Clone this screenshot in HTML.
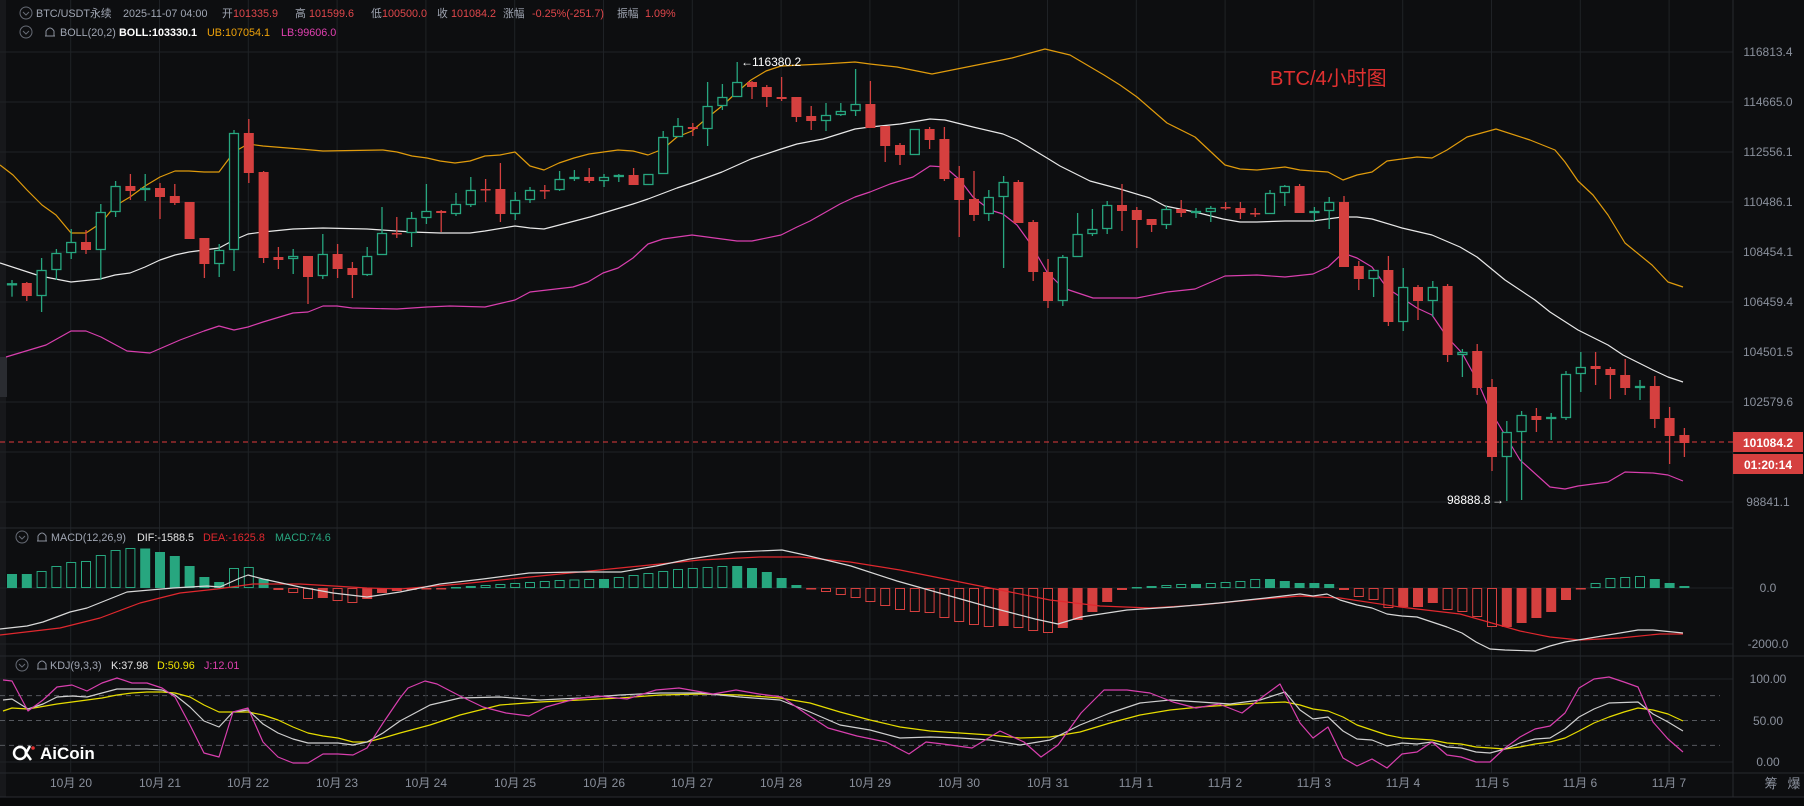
<!DOCTYPE html>
<html><head><meta charset="utf-8">
<style>
html,body{margin:0;padding:0;background:#0d0e10;}
svg{display:block;}
text{font-family:"Liberation Sans","Noto Sans CJK SC",sans-serif;}
</style></head>
<body>
<svg id="s" width="1804" height="806" viewBox="0 0 1804 806" xmlns="http://www.w3.org/2000/svg">
<rect width="1804" height="806" fill="#0d0e10"/>
<rect x="0" y="0" width="6" height="797" fill="#17181b"/>
<rect x="0" y="357" width="7" height="40" fill="#2a2c31"/>
<g id="grid"></g>
<g id="shapes"></g>
<line x1="0" y1="528" x2="1733" y2="528" stroke="#26292e"/>
<line x1="0" y1="656" x2="1804" y2="656" stroke="#26292e"/>
<line x1="0" y1="773" x2="1804" y2="773" stroke="#26292e"/>
<line x1="1733" y1="0" x2="1733" y2="797" stroke="#26292e"/>
<rect x="0" y="797" width="1804" height="9" fill="#08090a"/>
<line x1="0" y1="797" x2="1804" y2="797" stroke="#2a2c31"/>
<line x1="0" y1="442" x2="1733" y2="442" stroke="#e0393b" stroke-dasharray="5,4"/>
<rect x="1733" y="432" width="70" height="20" fill="#d5403f"/>
<rect x="1733" y="454" width="70" height="20" fill="#d5403f"/>
<text x="1768" y="447" fill="#fff" font-size="12" font-weight="bold" text-anchor="middle">101084.2</text>
<text x="1768" y="469" fill="#fff" font-size="12" font-weight="bold" text-anchor="middle">01:20:14</text>
<g fill="#8a909c" font-size="12" text-anchor="middle">
<text x="1768" y="56">116813.4</text>
<text x="1768" y="106">114665.0</text>
<text x="1768" y="156">112556.1</text>
<text x="1768" y="206">110486.1</text>
<text x="1768" y="256">108454.1</text>
<text x="1768" y="306">106459.4</text>
<text x="1768" y="356">104501.5</text>
<text x="1768" y="406">102579.6</text>
<text x="1768" y="506">98841.1</text>
<text x="1768" y="592">0.0</text>
<text x="1768" y="648">-2000.0</text>
<text x="1768" y="683">100.00</text>
<text x="1768" y="725">50.00</text>
<text x="1768" y="766">0.00</text>
</g>
<g fill="#8a909c" font-size="12" text-anchor="middle">
<text x="71" y="787">10月 20</text><text x="160" y="787">10月 21</text><text x="248" y="787">10月 22</text>
<text x="337" y="787">10月 23</text><text x="426" y="787">10月 24</text><text x="515" y="787">10月 25</text>
<text x="604" y="787">10月 26</text><text x="692" y="787">10月 27</text><text x="781" y="787">10月 28</text>
<text x="870" y="787">10月 29</text><text x="959" y="787">10月 30</text><text x="1048" y="787">10月 31</text>
<text x="1136" y="787">11月 1</text><text x="1225" y="787">11月 2</text><text x="1314" y="787">11月 3</text>
<text x="1403" y="787">11月 4</text><text x="1492" y="787">11月 5</text><text x="1580" y="787">11月 6</text>
<text x="1669" y="787">11月 7</text>
<text x="1771" y="788" font-size="13">筹</text><text x="1794" y="788" font-size="13">爆</text>
</g>
<g font-size="10.8">
<circle cx="26" cy="13" r="6" fill="none" stroke="#666b75"/>
<path d="M23 12 L26 15 L29 12" fill="none" stroke="#666b75"/>
<text x="36" y="17" fill="#a0a6b3">BTC/USDT永续</text>
<text x="123" y="17" fill="#a0a6b3">2025-11-07 04:00</text>
<text x="222" y="17" fill="#a0a6b3">开</text><text x="233" y="17" fill="#e0474b">101335.9</text>
<text x="295" y="17" fill="#a0a6b3">高</text><text x="309" y="17" fill="#e0474b">101599.6</text>
<text x="371" y="17" fill="#a0a6b3">低</text><text x="382" y="17" fill="#e0474b">100500.0</text>
<text x="437" y="17" fill="#a0a6b3">收</text><text x="451" y="17" fill="#e0474b">101084.2</text>
<text x="503" y="17" fill="#a0a6b3">涨幅</text><text x="532" y="17" fill="#e0474b">-0.25%(-251.7)</text>
<text x="617" y="17" fill="#a0a6b3">振幅</text><text x="645" y="17" fill="#e0474b">1.09%</text>

<circle cx="26" cy="32" r="6" fill="none" stroke="#666b75"/>
<path d="M23 31 L26 34 L29 31" fill="none" stroke="#666b75"/>
<path d="M46 36 L46 31 Q50 25 54 31 L54 36 Z M45 36 L55 36" fill="none" stroke="#8a909c"/>
<text x="60" y="36" fill="#a0a6b3">BOLL(20,2)</text>
<text x="119" y="36" fill="#fff" font-weight="bold">BOLL:103330.1</text>
<text x="207" y="36" fill="#f0a30a">UB:107054.1</text>
<text x="281" y="36" fill="#e040b0">LB:99606.0</text>

<circle cx="22" cy="537" r="6" fill="none" stroke="#666b75"/>
<path d="M19 536 L22 539 L25 536" fill="none" stroke="#666b75"/>
<path d="M38 541 L38 536 Q42 530 46 536 L46 541 Z M37 541 L47 541" fill="none" stroke="#8a909c"/>
<text x="51" y="541" fill="#a0a6b3">MACD(12,26,9)</text>
<text x="137" y="541" fill="#e6e6e6">DIF:-1588.5</text>
<text x="203" y="541" fill="#e0282e">DEA:-1625.8</text>
<text x="275" y="541" fill="#27a67f">MACD:74.6</text>

<circle cx="22" cy="665" r="6" fill="none" stroke="#666b75"/>
<path d="M19 664 L22 667 L25 664" fill="none" stroke="#666b75"/>
<path d="M38 669 L38 664 Q42 658 46 664 L46 669 Z M37 669 L47 669" fill="none" stroke="#8a909c"/>
<text x="50" y="669" fill="#a0a6b3">KDJ(9,3,3)</text>
<text x="111" y="669" fill="#e6e6e6">K:37.98</text>
<text x="157" y="669" fill="#f2e600">D:50.96</text>
<text x="204" y="669" fill="#e040b0">J:12.01</text>
</g>
<text x="1270" y="85" fill="#e03030" font-size="20">BTC/4小时图</text>
<text x="752" y="66" fill="#fff" font-size="12">116380.2</text>
<text x="741" y="66" fill="#fff" font-size="12">←</text>
<text x="1447" y="504" fill="#fff" font-size="12">98888.8</text>
<text x="1492" y="504" fill="#fff" font-size="12">→</text>
<g>
<circle cx="20" cy="753" r="6" fill="none" stroke="#fff" stroke-width="2.5"/>
<path d="M30 746 L26 753 L31 760" fill="none" stroke="#fff" stroke-width="2.5"/>
<circle cx="33" cy="748" r="1.8" fill="#e03030"/>
<text x="40" y="759" fill="#fff" font-size="17" font-weight="bold">AiCoin</text>
</g>
</svg>
<script>
(function(){
var NS="http://www.w3.org/2000/svg";
var G=document.getElementById('grid'),S=document.getElementById('shapes');
function el(p,t,a){var e=document.createElementNS(NS,t);for(var k in a)e.setAttribute(k,a[k]);p.appendChild(e);return e;}
for(var y=52;y<=502;y+=50)el(G,'line',{x1:0,y1:y,x2:1733,y2:y,stroke:'#1f2226'});
[588,644,679,762].forEach(function(y){el(G,'line',{x1:0,y1:y,x2:1733,y2:y,stroke:'#1f2226'});});
[695.6,720.5,745.4].forEach(function(y){el(G,'line',{x1:0,y1:y,x2:1720,y2:y,stroke:'#55585e','stroke-dasharray':'5,4'});});
for(var k=0;k<19;k++){var gx=70.7+k*88.8;el(G,'line',{x1:gx,y1:0,x2:gx,y2:773,stroke:'#1f2226'});}
var GR='#27a67f',RD='#d5403f',BG='#0d0e10';
var C=[[285.3,283.3,280,296.7],[283,296,282,301],[296,270,258,312],[270,253,249,280],[253,242,229,259],[242,250,230,254],[250,212,204,280],[212,186,181,217],[186,191,174,200],[190,188,174,201],
[188,197,183,219],[196,203,184,205],[202,239,202,239],[238,264,238,278],[264,250,244,277],[250,133,130,271],[133,173,119,183],[172,258,171,263],[257,260,247,269],[259,256,249,274],
[256,277,256,304],[276,254,234,279],[254,269,244,278],[268,275,262,298],[275,256,247,276],[255,233,207,255],[233,234,217,238],[233,218,212,247],[218,211,184,224],[211,213,210,232],
[214,204,193,216],[205,190,177,207],[189,190,179,202],[189,214,163,222],[214,200,192,220],[200,190,187,203],[190,191,185,199],[190,179,171,191],[179,177,170,181],[177,181,168,183],
[181,177,174,187],[177,175,174,182],[175,185,168,185],[185,174,174,185],[174,137,131,174],[137,126,118,137],[127,129,123,136],[129,106,82,146],[106,97,84,110],[97,82,62,97],
[82,87,81,99],[87,97,85,107],[97,99,77,101],[97,117,97,122],[116,121,106,130],[121,115,103,131],[115,111,103,116],[111,104,69,116],[104,128,81,128],[126,146,126,162],
[145,155,143,165],[155,129,129,155],[129,140,127,149],[139,179,127,181],[178,200,166,237],[199,215,171,221],[214,197,190,221],[197,182,176,268],[182,223,180,223],[222,272,220,281],
[272,301,259,308],[301,257,255,306],[257,234,213,257],[234,229,209,236],[229,205,201,234],[205,211,184,231],[210,220,207,248],[219,225,219,232],[225,209,206,229],[209,213,200,217],
[213,211,208,218],[212,208,206,222],[207,208,202,210],[208,213,202,219],[213,214,208,217],[214,193,190,214],[193,186,185,206],[186,213,184,213],[212,211,207,221],[211,202,197,229],
[202,267,196,267],[266,279,261,290],[279,270,270,297],[270,322,256,326],[322,287,268,331],[287,301,285,320],[301,287,281,317],[286,355,284,362],[355,352,349,377],[351,388,344,395],
[387,457,379,471],[457,432,421,501],[432,415,411,500],[416,420,408,432],[419,417,413,440],[418,374,371,420],[374,367,352,392],[366,369,352,385],[369,375,367,399],[375,388,359,395],
[387,386,380,400],[386,419,376,428],[418,436,407,464],[435,443,428,457]];
function X(i){return 12+i*14.8;}
var M=[574,574,571,566,562,561,555,550,548,548.5,552,556,566,577,582,568,567,579,590,593,599,598,601,603,599,593,591,590,589,589,
587,586,585,584,583,582,581,580,579.5,579,579,577,575,573,571,569,568,567,566,566,568,572,578,585,589,592,595,598,602,606,
610,612,613,618,622,625,627,626,628,631,633,628,620,612,602,590,587,586,585,584,584,583,582,581,579,579,581,583,583,584,
590,597,600,608,607,607,603,610,612,617,627,627,623,618,612,600,589,583,578,577,576,579,583,586];
function poly(pts,col,w){el(S,'polyline',{points:pts.map(function(p){return p.join(',');}).join(' '),fill:'none',stroke:col,'stroke-width':w||1.2,'stroke-linejoin':'round'});}
var Z=588;
for(var i=0;i<M.length;i++){var v=M[i],up=v<Z,col=up?GR:RD;var prev=i?M[i-1]:v;var inc=Math.abs(v-Z)>Math.abs(prev-Z)+0.01;
var y0=Math.min(v,Z),hh=Math.max(Math.abs(v-Z),1.5);
if(inc)el(S,'rect',{x:X(i)-4.5,y:y0+0.5,width:9,height:Math.max(hh-1,1),fill:BG,stroke:col,'stroke-width':1});
else el(S,'rect',{x:X(i)-5,y:y0,width:10,height:hh,fill:col});}
poly([[0,165],[13,175],[27,190],[42,205],[56,215],[71,233],[86,233],[101,223],[115,206],[130,197],[145,186],[160,177],[175,171],[189,171],[204,172],[219,172],[234,152],[248,144],[263,146],[300,149],[323,151],[383,150],[397,152],[412,156],[427,158],[440,161],[455,163],[470,161],[485,156],[500,155],[515,152],[530,166],[544,170],[559,163],[574,158],[589,154],[618,150],[633,151],[648,155],[663,149],[677,137],[692,131],[707,118],[722,106],[736,93],[751,80],[766,71],[781,66],[823,64],[855,62],[870,64],[897,67],[932,74],[972,66],[1012,58],[1045,49],[1070,55],[1104,75],[1120,85],[1137,97],[1167,123],[1195,137],[1225,165],[1240,169],[1257,170],[1285,167],[1300,170],[1313,171],[1328,172],[1343,180],[1357,175],[1372,172],[1387,161],[1417,157],[1432,158],[1447,150],[1467,137],[1496,129],[1530,140],[1555,150],[1565,162],[1578,181],[1593,195],[1608,215],[1625,243],[1652,265],[1668,282],[1683,287]],'#e09b0c');
poly([[0,263],[40,276],[71,282],[100,279],[115,275],[130,273],[145,267],[160,260],[175,255],[189,252],[204,250],[219,248],[234,240],[248,234],[263,232],[293,229],[323,228],[367,229],[397,231],[412,232],[440,233],[470,233],[485,231],[515,226],[530,228],[544,229],[590,217],[633,204],[648,199],[677,188],[692,183],[722,172],[751,159],[781,149],[797,144],[823,139],[855,129],[870,127],[900,124],[930,119],[945,120],[973,127],[1003,134],[1017,140],[1047,158],[1060,166],[1090,181],[1120,189],[1150,198],[1165,206],[1195,212],[1223,219],[1240,222],[1257,222],[1285,221],[1313,221],[1342,217],[1357,217],[1372,219],[1402,228],[1432,235],[1460,247],[1477,257],[1505,280],[1535,300],[1550,312],[1578,330],[1608,345],[1623,355],[1653,370],[1668,377],[1683,382]],'#e8e8e8');
poly([[6,357],[46,345],[71,331],[86,331],[101,337],[127,351],[150,353],[180,340],[204,331],[219,326],[234,330],[248,327],[263,322],[293,313],[308,312],[323,306],[337,306],[352,308],[397,309],[427,307],[450,306],[485,307],[515,300],[530,292],[573,287],[588,282],[603,273],[618,268],[633,258],[648,244],[663,239],[692,235],[737,241],[752,241],[781,235],[797,227],[810,221],[840,204],[855,197],[870,192],[890,184],[913,177],[930,166],[945,167],[960,180],[973,197],[990,210],[1003,214],[1017,225],[1030,243],[1047,272],[1063,288],[1093,298],[1137,298],[1167,292],[1195,289],[1225,276],[1257,275],[1285,277],[1313,274],[1328,267],[1343,253],[1357,258],[1372,267],[1387,288],[1417,308],[1432,315],[1447,337],[1462,353],[1477,380],[1490,410],[1520,460],[1550,487],[1565,489],[1578,486],[1608,482],[1625,472],[1653,473],[1668,475],[1683,481]],'#d83fae');
for(var i=0;i<C.length;i++){var c=C[i],o=c[0],cl=c[1],hi=c[2],lo=c[3],cx=X(i);var up=cl<o;var col=up?GR:RD;var bt=Math.min(o,cl),bb=Math.max(o,cl);var bh=Math.max(bb-bt,1.5);
if(up){el(S,'line',{x1:cx,y1:hi,x2:cx,y2:bt,stroke:col,'stroke-width':1.3});el(S,'line',{x1:cx,y1:bt+bh,x2:cx,y2:lo,stroke:col,'stroke-width':1.3});
el(S,'rect',{x:cx-4.5,y:bt+0.5,width:9,height:Math.max(bh-1,1),fill:BG,stroke:col,'stroke-width':1.3});}
else{el(S,'line',{x1:cx,y1:hi,x2:cx,y2:lo,stroke:col,'stroke-width':1.3});el(S,'rect',{x:cx-5,y:bt,width:10,height:bh,fill:col});}}
poly([[0,635],[60,628],[100,618],[140,603],[180,593],[217,589],[253,584],[300,584],[367,588],[400,589],[460,584],[520,578],[580,572],[640,566],[700,560],[760,557],[800,557],[850,562],[900,570],[950,580],[1000,590],[1050,600],[1100,606],[1150,608],[1200,605],[1250,600],[1300,596],[1340,598],[1400,607],[1460,614],[1520,631],[1550,637],[1580,640],[1620,638],[1660,634],[1683,634]],'#e0282e');
poly([[0,629],[27,626],[43,622],[70,612],[87,608],[127,592],[173,588],[207,586],[220,587],[240,578],[248,575],[263,579],[300,587],[333,593],[367,597],[400,592],[440,584],[483,579],[529,573],[575,572],[621,572],[656,566],[690,559],[736,552],[782,550],[805,555],[851,566],[897,581],[943,594],[989,607],[1035,619],[1058,624],[1081,617],[1127,610],[1174,607],[1219,603],[1266,598],[1300,594],[1313,596],[1327,594],[1340,600],[1357,605],[1372,608],[1387,614],[1402,616],[1417,617],[1432,622],[1447,627],[1462,633],[1476,642],[1490,649],[1505,650],[1535,651],[1550,646],[1565,642],[1578,640],[1608,635],[1638,630],[1653,630],[1683,633]],'#d8d8d8');
poly([[3,711],[12,708],[28,709],[57,704],[87,700],[102,698],[117,695],[132,693],[147,692],[162,692],[175,693],[190,697],[204,705],[219,712],[248,712],[263,715],[278,720],[293,727],[308,733],[323,736],[338,738],[353,742],[367,742],[383,738],[400,733],[430,725],[460,715],[500,705],[540,702],[580,700],[620,698],[660,695],[700,694],[740,695],[780,698],[810,703],[840,712],[870,720],[900,727],[930,731],[960,733],[990,735],[1020,738],[1050,737],[1080,732],[1110,723],[1140,715],[1170,710],[1200,707],[1230,705],[1260,703],[1285,702],[1300,705],[1313,709],[1328,711],[1343,717],[1357,725],[1372,730],[1387,735],[1402,738],[1432,740],[1447,743],[1461,744],[1476,747],[1505,749],[1520,747],[1535,744],[1550,742],[1565,738],[1579,731],[1594,723],[1609,717],[1624,712],[1638,708],[1653,710],[1668,714],[1683,721]],'#e6dc00');
poly([[3,700],[12,699],[28,709],[43,704],[57,697],[72,696],[87,697],[102,693],[117,689],[147,689],[162,690],[175,695],[190,707],[204,721],[219,727],[233,712],[248,710],[263,724],[278,733],[293,739],[308,743],[338,743],[353,745],[367,742],[383,733],[400,721],[430,705],[460,698],[500,697],[540,700],[580,698],[620,695],[660,693],[700,693],[740,697],[780,700],[810,712],[840,725],[870,730],[900,738],[930,737],[960,738],[990,740],[1020,745],[1050,740],[1080,725],[1110,713],[1140,703],[1170,700],[1200,702],[1230,704],[1260,700],[1285,692],[1300,710],[1313,719],[1328,717],[1343,731],[1357,739],[1372,740],[1387,746],[1402,743],[1417,744],[1432,742],[1447,747],[1461,748],[1476,752],[1490,753],[1505,749],[1520,743],[1535,739],[1550,738],[1565,729],[1579,717],[1594,709],[1609,703],[1638,702],[1653,714],[1668,722],[1683,731]],'#cfcfcf');
poly([[3,680],[12,681],[28,711],[43,700],[57,687],[72,685],[87,691],[102,683],[117,678],[132,683],[147,683],[162,688],[175,697],[190,725],[204,753],[219,757],[233,712],[248,708],[263,742],[278,757],[293,763],[308,763],[323,754],[338,754],[353,755],[367,748],[383,723],[400,698],[408,688],[425,681],[437,684],[460,696],[483,707],[506,713],[529,716],[546,707],[575,699],[598,696],[627,699],[656,690],[679,688],[713,694],[736,690],[759,694],[782,697],[805,713],[828,728],[857,736],[886,742],[909,754],[926,742],[943,744],[972,748],[1000,731],[1024,742],[1041,757],[1058,745],[1081,713],[1104,690],[1127,690],[1150,693],[1173,702],[1196,708],[1219,704],[1242,713],[1265,695],[1280,684],[1300,723],[1313,738],[1328,727],[1343,758],[1357,766],[1372,759],[1387,768],[1402,754],[1417,752],[1432,742],[1447,755],[1461,757],[1476,762],[1490,762],[1505,748],[1520,737],[1535,729],[1550,726],[1565,713],[1579,688],[1594,679],[1609,677],[1624,682],[1638,687],[1653,722],[1668,739],[1683,752]],'#d83fae');
})();
</script>
</body></html>
